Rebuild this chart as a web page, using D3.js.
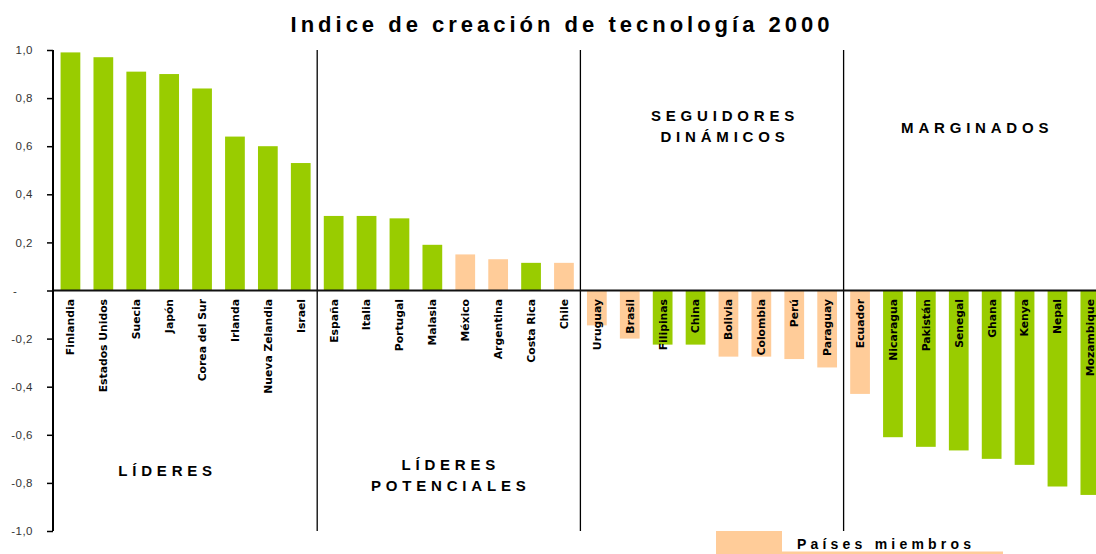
<!DOCTYPE html>
<html>
<head>
<meta charset="utf-8">
<script src="https://cdn.jsdelivr.net/npm/d3@7"></script>
<style>
  body { margin: 0; background: #fff; }
  svg { display: block; }
</style>
</head>
<body>
<div id="chart"></div>
<script>
// datos
var paises = ["Finlandia", "Estados Unidos", "Suecia", "Japón", "Corea del Sur", "Irlanda", "Nueva Zelandia", "Israel",
              "España", "Italia", "Portugal", "Malasia", "México", "Argentina", "Costa Rica", "Chile",
              "Uruguay", "Brasil", "Filipinas", "China", "Bolivia", "Colombia", "Perú", "Paraguay",
              "Ecuador", "Nicaragua", "Pakistán", "Senegal", "Ghana", "Kenya", "Nepal", "Mozambique"];
var indice = [0.99, 0.97, 0.91, 0.90, 0.84, 0.64, 0.60, 0.53,
              0.31, 0.31, 0.30, 0.19, 0.15, 0.13, 0.115, 0.115,
              -0.145, -0.20, -0.225, -0.225, -0.275, -0.275, -0.285, -0.32,
              -0.43, -0.61, -0.65, -0.665, -0.70, -0.725, -0.815, -0.85];
var miembros = ["México", "Argentina", "Chile", "Uruguay", "Brasil", "Bolivia", "Colombia", "Perú", "Paraguay", "Ecuador"];
var grupos = [
  { nombre: ["LÍDERES"], desde: 0, hasta: 8, y: 476, dx: -18 },
  { nombre: ["LÍDERES", "POTENCIALES"], desde: 8, hasta: 16, y: 470, dx: 2 },
  { nombre: ["SEGUIDORES", "DINÁMICOS"], desde: 16, hasta: 24, y: 121, dx: 13 },
  { nombre: ["MARGINADOS"], desde: 24, hasta: 32, y: 133, dx: 2 }
];
var yTicks = [1, 0.8, 0.6, 0.4, 0.2, 0, -0.2, -0.4, -0.6, -0.8, -1];
var titulo = "Indice de creación de tecnología 2000";
var leyenda = "Países miembros";

var width = 1096;
var height = 554;
var verde = "#99cc00";
var durazno = "#ffcc99";

var svg = d3.select("#chart").append("svg")
            .attr("width", width)
            .attr("height", height);

var x = d3.scaleBand()
          .domain(paises)
          .range([54, 54 + 32 * 32.9])
          .paddingInner(0.4)
          .paddingOuter(0.2);

var y = d3.scaleLinear()
          .domain([-1, 1])
          .range([531, 50]);

var datos = paises.map(function(p, i) { return { pais: p, valor: indice[i] }; });

// barras
svg.append("g").selectAll("rect")
    .data(datos)
    .enter().append("rect")
      .attr("x", function(d) { return x(d.pais); })
      .attr("width", x.bandwidth())
      .attr("y", function(d) { return y(Math.max(0, d.valor)); })
      .attr("height", function(d) { return Math.abs(y(d.valor) - y(0)); })
      .style("fill", function(d) { return miembros.indexOf(d.pais) >= 0 ? durazno : verde; });

// lineas divisorias de grupos
var borde = function(i) { return 54 + i * x.step(); };
svg.append("g").selectAll("line")
    .data([8, 16, 24])
    .enter().append("line")
      .attr("x1", function(d) { return borde(d); })
      .attr("x2", function(d) { return borde(d); })
      .attr("y1", y(1))
      .attr("y2", y(-1))
      .style("stroke", "#000")
      .style("stroke-width", 1.3);

// linea del cero
svg.append("line")
    .attr("x1", 53).attr("x2", width)
    .attr("y1", y(0)).attr("y2", y(0))
    .style("stroke", "#111")
    .style("stroke-width", 2);

// eje y
var yAxis = d3.axisLeft(y)
              .tickValues(yTicks)
              .tickSize(6)
              .tickPadding(14)
              .tickFormat(function(d) {
                if (d === 0) return "-";
                return d3.format(".1f")(d).replace(".", ",").replace("−", "-");
              });

var gy = svg.append("g")
    .attr("transform", "translate(53,0)")
    .call(yAxis);
gy.select(".domain").style("stroke", "#000").style("stroke-width", 2)
  .attr("d", "M0," + y(1) + "V" + y(-1));
gy.selectAll(".tick line").style("stroke", "#000").style("stroke-width", 1.5);
gy.selectAll(".tick text")
  .style("font-family", "'Liberation Sans', Arial, sans-serif")
  .style("font-size", "11.5px")
  .style("letter-spacing", "0.5px")
  .style("fill", "#333");
gy.selectAll(".tick text").filter(function(d) { return d === 0; })
  .attr("text-anchor", "start")
  .attr("x", -40);

// etiquetas de paises
svg.append("g").selectAll("text")
    .data(datos)
    .enter().append("text")
      .attr("transform", function(d) {
        return "translate(" + (x(d.pais) + x.bandwidth() / 2) + "," + 299 + ") rotate(-90)";
      })
      .attr("text-anchor", "end")
      .attr("dy", "0.36em")
      .style("font-family", "'DejaVu Sans', sans-serif")
      .style("font-weight", "bold")
      .style("font-size", "10.8px")
      .style("fill", "#000")
      .text(function(d) { return d.pais; });

// nombres de grupos
grupos.forEach(function(g) {
  var cx = (borde(g.desde) + borde(g.hasta)) / 2 + g.dx;
  var t = svg.append("text")
      .attr("x", cx)
      .attr("y", g.y)
      .attr("text-anchor", "middle")
      .style("font-family", "'Liberation Sans', Arial, sans-serif")
      .style("font-weight", "bold")
      .style("font-size", "15px")
      .style("letter-spacing", "4.8px");
  g.nombre.forEach(function(linea, k) {
    t.append("tspan")
      .attr("x", cx)
      .attr("dy", k === 0 ? 0 : 21)
      .text(linea);
  });
});

// titulo
svg.append("text")
    .attr("x", 562)
    .attr("y", 32)
    .attr("text-anchor", "middle")
    .style("font-family", "'Liberation Sans', Arial, sans-serif")
    .style("font-weight", "bold")
    .style("font-size", "22px")
    .style("letter-spacing", "4px")
    .text(titulo);

// leyenda (cortada por el borde inferior)
svg.append("rect")
    .attr("x", 716).attr("y", 531)
    .attr("width", 66).attr("height", 23)
    .style("fill", durazno);
svg.append("rect")
    .attr("x", 716).attr("y", 551.5)
    .attr("width", 287).attr("height", 3)
    .style("fill", durazno);
svg.append("text")
    .attr("x", 797)
    .attr("y", 549)
    .style("font-family", "'Liberation Sans', Arial, sans-serif")
    .style("font-weight", "bold")
    .style("font-size", "14px")
    .style("letter-spacing", "4.2px")
    .text(leyenda);
</script>
</body>
</html>
